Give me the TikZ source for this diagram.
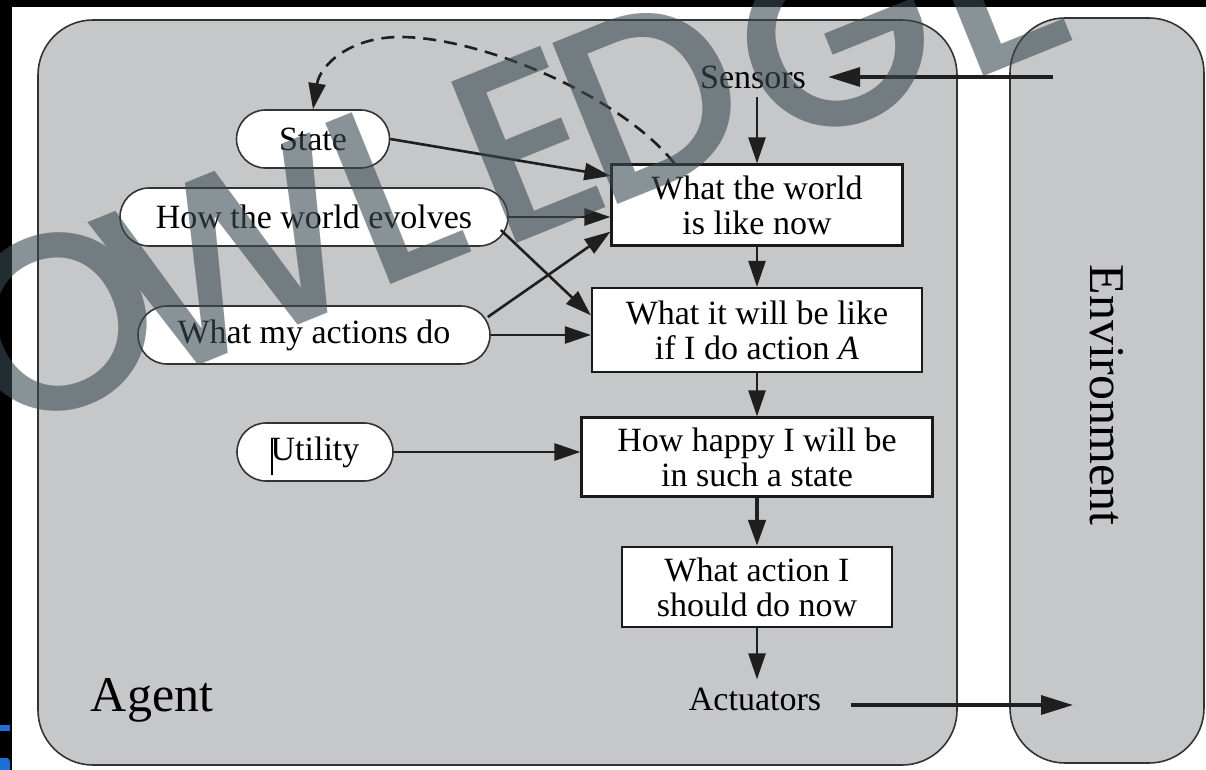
\documentclass[tikz,border=0pt]{standalone}
\usepackage{fontspec}
\setmainfont{Liberation Serif}
\IfFontExistsTF{Poppins Medium}
  {\newfontfamily\wmfont{Poppins Medium}}
  {\newfontfamily\wmfont{Poppins}}
\usetikzlibrary{arrows.meta,calc}
\definecolor{panelgray}{HTML}{C6C7C9}
\definecolor{edge}{HTML}{333333}
\definecolor{wmark}{HTML}{3A4A52}
\definecolor{tagblue}{HTML}{1F6FD6}
\tikzset{
  lbl/.style={font=\fontsize{34}{35}\selectfont, text=black, align=center},
  biglbl/.style={font=\fontsize{50}{52}\selectfont, text=black},
  capsule/.style={lbl, draw=edge, line width=1.6pt, fill=white,
    rounded corners=29pt, inner sep=0pt, minimum height=58pt},
  panel/.style={lbl, draw=black!90, line width=2.2pt, fill=white, inner sep=0pt},
  outer/.style={draw=edge, line width=1.6pt, fill=panelgray, rounded corners=55pt},
  flow/.style={-{Triangle[length=26pt,width=17pt]}, line width=2.6pt, draw=black!88},
  envflow/.style={-{Triangle[length=32pt,width=19pt]}, line width=3.4pt, draw=black!88},
  memory/.style={-{Triangle[length=26pt,width=17pt]}, line width=2.6pt, draw=black!88,
    dash pattern=on 13pt off 8pt},
  wm/.style={font=\wmfont\fontsize{250}{250}\selectfont, text=wmark, inner sep=0pt}
}
\begin{document}
\begin{tikzpicture}[x=1pt,y=-1pt]
\useasboundingbox (0,0) rectangle (1206,770);
\fill[white] (0,0) rectangle (1206,770);
% dark frame strips along the left and top
\fill[black] (0,0) rectangle (12,770);
\fill[black] (0,0) rectangle (1206,7);
\fill[tagblue] (0,725) rectangle (10,731);
\fill[tagblue] (0,758) -- (7,758) to[out=0,in=90] (10,763) -- (10,770) -- (0,770) -- cycle;

% agent and environment panels
\draw[outer] (38,20) rectangle (957,765);
\draw[outer] (1010,18) rectangle (1204,763);

% internal state and knowledge
\node[capsule, minimum width=153pt] (state) at (313,139) {State};
\node[capsule, minimum width=388pt] (evolves) at (314,217) {How the world evolves};
\node[capsule, minimum width=352pt] (actions) at (314,335) {What my actions do};
\node[capsule, minimum width=156pt] (utility) at (315,452) {Utility};
\draw[black, line width=1.6pt] (272,438) -- (272,475);

% reasoning chain
\node[panel, minimum width=291pt, minimum height=81pt] (now) at (757,205) {What the world\\is like now};
\node[panel, minimum width=330pt, minimum height=84pt] (willbe) at (757,330) {What it will be like\\if I do action \emph{A}};
\node[panel, minimum width=351pt, minimum height=79pt] (happy) at (757,457) {How happy I will be\\in such a state};
\node[panel, minimum width=270pt, minimum height=80pt] (act) at (757,587) {What action I\\should do now};

\node[lbl, inner sep=8pt] (sensors) at (753,77) {Sensors};
\node[lbl, inner sep=8pt] (actuators) at (755,699) {Actuators};
\node[biglbl] (agentlbl) at (152,700) {Agent};
\node[biglbl, rotate=-90] (envlbl) at (1107,395) {Environment};

\coordinate (envIn) at (1053,77);
\coordinate (envOut) at (1073,705);

% connectors
\draw[envflow, shorten >=14pt] (envIn) -- (sensors.east |- envIn);
\draw[envflow, shorten <=22pt] (actuators.east |- envOut) -- (envOut);
\draw[flow] (now.north |- sensors.south) -- (now.north);
\draw[flow] (now.south) -- (willbe.north);
\draw[flow] (willbe.south) -- (happy.north);
\draw[flow, line width=4.4pt] (happy.south) -- (act.north);
\draw[flow] (act.south) -- (act.south |- actuators.north);
\draw[flow] (state.east) -- ($(now.north west)!0.15!(now.south west)$);
\draw[flow] (evolves.east) -- (evolves.east -| now.west);
\draw[flow] ($(evolves.east)+(-8,13)$) -- ($(willbe.north west)!0.33!(willbe.south west)$);
\draw[flow] ($(actions.east)+(-3,-18)$) -- ($(now.north west)!0.82!(now.south west)$);
\draw[flow] (actions.east) -- (actions.east -| willbe.west);
\draw[flow] (utility.east) -- (utility.east -| happy.west);
\draw[memory] ($(now.north west)+(64,0)$) .. controls (620,95) and (480,37) .. (400,37)
  .. controls (350,37) and (320,65) .. (state.north);

% watermark lettering
\begin{scope}[transparency group, opacity=0.6]
\node[wm, rotate=22] (wO) at (58,322) {O};
\node[wm, rotate=22] (wW) at (232,258) {W};
\node[wm, rotate=22] (wL) at (392,190) {L};
\node[wm, rotate=22] (wE) at (528,145) {E};
\node[wm, rotate=22] (wD) at (650,98) {D};
\node[wm, rotate=22] (wG) at (835,38) {G};
\node[wm, rotate=22] (wE2) at (995,-22) {E};
\end{scope}
\end{tikzpicture}
\end{document}
